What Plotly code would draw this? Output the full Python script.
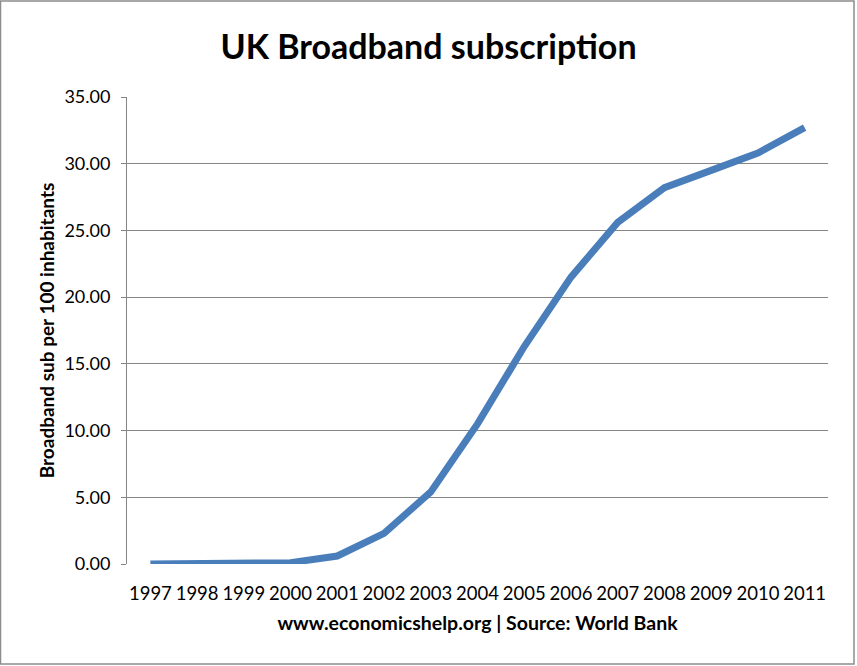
import plotly.graph_objects as go

years = ["1997", "1998", "1999", "2000", "2001", "2002", "2003", "2004",
         "2005", "2006", "2007", "2008", "2009", "2010", "2011"]
subs = [0.0, 0.0, 0.01, 0.1, 0.6, 2.3, 5.4, 10.5, 16.3, 21.5, 25.6, 28.2, 29.5, 30.8, 32.7]
y_ticks = [0, 5, 10, 15, 20, 25, 30, 35]

FONT = "Lato, 'Open Sans', sans-serif"

fig = go.Figure()
fig.add_trace(go.Scatter(
    x=years, y=subs, mode="lines",
    line=dict(color="#4a7ebb", width=7),
    hoverinfo="skip", showlegend=False,
))

fig.update_layout(
    width=857, height=666,
    margin=dict(l=127, r=29, t=97, b=102),
    paper_bgcolor="white", plot_bgcolor="white",
    font=dict(family=FONT, color="black"),
    title=dict(text="<b>UK Broadband subscription</b>",
               x=0.5, xanchor="center", y=1 - 47 / 666, yanchor="middle",
               font=dict(size=34, family=FONT, color="black")),
    shapes=[dict(type="rect", xref="paper", yref="paper",
                 x0=-127 / 701 + 0.5 / 701, x1=(857 - 127 - 3) / 701,
                 y0=(564 - 664) / 467, y1=(564 - 1) / 467,
                 line=dict(color="#8c8c8c", width=1.5), layer="below")],
)

fig.update_xaxes(
    type="category", range=[-0.5, 14.5],
    showgrid=False, showline=False, ticks="",
    tickfont=dict(size=18.5, family=FONT), ticklabelstandoff=16,
    title=dict(text="<b>www.economicshelp.org | Source: World Bank</b>",
               font=dict(size=19.5, family=FONT), standoff=13),
)
fig.update_yaxes(
    range=[0, 35], tickvals=y_ticks,
    ticktext=[f"{v:.2f}" for v in y_ticks],
    showgrid=True, gridcolor="#858585", gridwidth=1,
    showline=True, linecolor="#858585", linewidth=1,
    ticks="outside", ticklen=5, tickcolor="#858585",
    tickfont=dict(size=18, family=FONT), ticklabelstandoff=7,
    zeroline=False,
    title=dict(text="<b>Broadband sub per 100 inhabitants</b>",
               font=dict(size=19, family=FONT), standoff=4),
)

fig.write_html("out.html")
